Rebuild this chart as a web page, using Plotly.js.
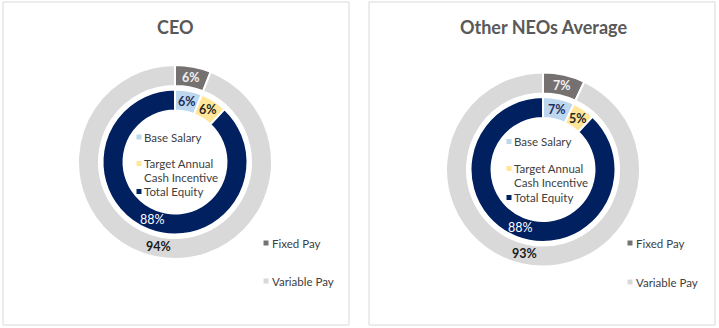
<!DOCTYPE html>
<html>
<head>
<meta charset="utf-8">
<script src="https://cdn.plot.ly/plotly-3.0.1.min.js"></script>
<style>html,body{margin:0;padding:0;background:#fff;}#chart{width:719px;height:328px;}</style>
</head>
<body>
<div id="chart"></div>
<script>
// ---- data ----
var panelTitles = ['CEO', 'Other NEOs Average'];
var outerLabels = ['Fixed Pay', 'Variable Pay'];
var innerLabels = ['Base Salary', 'Target Annual<br>Cash Incentive', 'Total Equity'];
var ceoOuter = [6, 94];
var ceoInner = [6, 6, 88];
var neoOuter = [7, 93];
var neoInner = [7, 5, 88];

// ---- styles ----
var outerColors = ['#767171', '#d9d9d9'];
var innerColors = ['#bdd7ee', '#ffe699', '#002060'];
var outerTextColors = ['#f2f2f2', '#1a1a1a'];
var outerTextWeight = ['bold', 'bold'];
var innerTextColors = ['#1f2f5c', '#262626', '#ffffff'];
var innerTextWeight = ['bold', 'bold', 'normal'];
var FONT = 'Lato, "Open Sans", sans-serif';
var W = 719, H = 328;
var R_OUT = 97, HOLE_OUT = 0.784, R_IN = 72.5, HOLE_IN = 0.71;
var LINE_GAP = 13.5;

function px(x) { return x / W; }
function py(y) { return 1 - y / H; }

function dom(cx, cy, r) {
  return { x: [px(cx - r), px(cx + r)], y: [py(cy + r), py(cy - r)] };
}

var panels = [
  { cx: 175, cy: 162, outer: ceoOuter, inner: ceoInner, box: [3, 2, 349, 325],
    legIn: { mx: 139, ys: [137, 163.5, 191.5] }, legOut: { mx: 266, ys: [243, 281] } },
  { cx: 543, cy: 169.5, outer: neoOuter, inner: neoInner, box: [369, 2, 715, 325],
    legIn: { mx: 509, ys: [141.5, 168.5, 197.5] }, legOut: { mx: 630, ys: [243, 282] } }
];

var data = [];
var shapes = [];
var annotations = [];

// percentage labels at each slice's mid-angle, centred in the ring (Excel style)
function sliceLabels(p, values, rOuter, hole, colors, weights) {
  var total = values.reduce(function (a, b) { return a + b; }, 0);
  var cum = 0;
  var rMid = rOuter * (1 + hole) / 2;
  values.forEach(function (v, k) {
    var mid = (cum + v / 2) / total * 2 * Math.PI;
    cum += v;
    var x = p.cx + rMid * Math.sin(mid);
    var y = p.cy - rMid * Math.cos(mid);
    annotations.push({ xref: 'paper', yref: 'paper', x: px(x), y: py(y),
      xanchor: 'center', yanchor: 'middle', showarrow: false,
      text: Math.round(v / total * 100) + '%',
      font: { family: FONT, size: 12.5, color: colors[k], weight: weights[k] } });
  });
}

panels.forEach(function (p, i) {
  data.push({
    type: 'pie', labels: outerLabels, values: p.outer,
    domain: dom(p.cx, p.cy, R_OUT), hole: HOLE_OUT,
    sort: false, direction: 'clockwise', rotation: 0,
    marker: { colors: outerColors, line: { color: '#ffffff', width: 2 } },
    textinfo: 'none', showlegend: false, hoverinfo: 'label+percent'
  });
  data.push({
    type: 'pie', labels: innerLabels, values: p.inner,
    domain: dom(p.cx, p.cy, R_IN), hole: HOLE_IN,
    sort: false, direction: 'clockwise', rotation: 0,
    marker: { colors: innerColors, line: { color: '#ffffff', width: 2 } },
    textinfo: 'none', showlegend: false, hoverinfo: 'label+percent'
  });

  sliceLabels(p, p.outer, R_OUT, HOLE_OUT, outerTextColors, outerTextWeight);
  sliceLabels(p, p.inner, R_IN, HOLE_IN, innerTextColors, innerTextWeight);

  // panel border
  shapes.push({ type: 'rect', xref: 'paper', yref: 'paper',
    x0: px(p.box[0]), x1: px(p.box[2]), y0: py(p.box[3]), y1: py(p.box[1]),
    line: { color: '#d9d9d9', width: 1 }, fillcolor: 'rgba(0,0,0,0)' });

  // title
  annotations.push({ xref: 'paper', yref: 'paper', x: px(p.cx), y: py(26.5),
    xanchor: 'center', yanchor: 'middle', showarrow: false, text: panelTitles[i],
    font: { family: FONT, size: 18, color: '#595959', weight: 'bold' } });

  // inner legend
  innerLabels.forEach(function (lab, j) {
    var y = p.legIn.ys[j];
    shapes.push({ type: 'rect', xref: 'paper', yref: 'paper', line: { width: 0 },
      x0: px(p.legIn.mx - 2.5), x1: px(p.legIn.mx + 2.5), y0: py(y + 2.5), y1: py(y - 2.5),
      fillcolor: innerColors[j] });
    lab.split('<br>').forEach(function (line, k) {
      annotations.push({ xref: 'paper', yref: 'paper', x: px(p.legIn.mx + 4),
        y: py(y + k * LINE_GAP), borderpad: 0,
        xanchor: 'left', yanchor: 'middle', align: 'left', showarrow: false, text: line,
        font: { family: FONT, size: 11.5, color: '#404040' } });
    });
  });

  // outer legend
  outerLabels.forEach(function (lab, j) {
    var y = p.legOut.ys[j];
    shapes.push({ type: 'rect', xref: 'paper', yref: 'paper', line: { width: 0 },
      x0: px(p.legOut.mx - 2.5), x1: px(p.legOut.mx + 2.5), y0: py(y + 2.5), y1: py(y - 2.5),
      fillcolor: outerColors[j] });
    annotations.push({ xref: 'paper', yref: 'paper', x: px(p.legOut.mx + 4), y: py(y),
      xanchor: 'left', yanchor: 'middle', align: 'left', showarrow: false, text: lab,
      font: { family: FONT, size: 11.5, color: '#404040' } });
  });
});

var layout = {
  width: W, height: H,
  margin: { l: 0, r: 0, t: 0, b: 0, pad: 0 },
  paper_bgcolor: '#ffffff',
  showlegend: false,
  shapes: shapes,
  annotations: annotations
};

Plotly.newPlot('chart', data, layout, { displayModeBar: false, staticPlot: true });
</script>
</body>
</html>
